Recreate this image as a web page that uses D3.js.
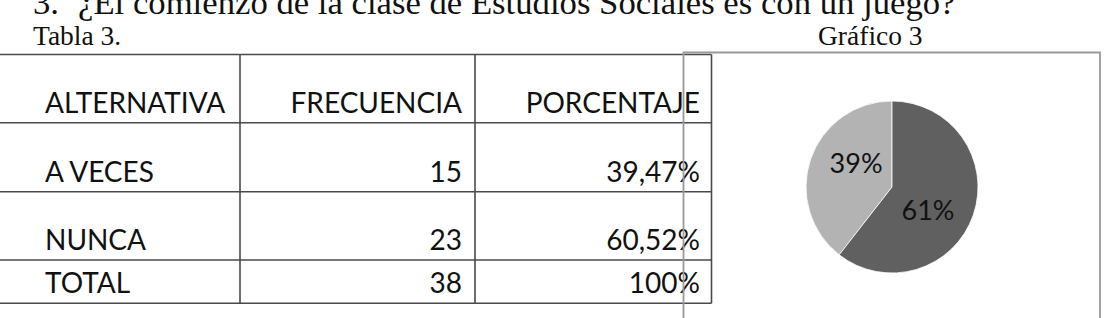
<!DOCTYPE html>
<html>
<head>
<meta charset="utf-8">
<script src="https://cdn.jsdelivr.net/npm/d3@7"></script>
<style>
  html, body { margin: 0; padding: 0; background: #fff; }
  svg { display: block; }
</style>
</head>
<body>
<svg id="chart" width="1107" height="318"></svg>
<script>
// ---- data ----
const headers = ["ALTERNATIVA", "FRECUENCIA", "PORCENTAJE"];
const categories = ["A VECES", "NUNCA"];
const frecuencias = [15, 23];
const porcentajes = ["39,47%", "60,52%"];
const totalLabel = "TOTAL";
const totalFrecuencia = 38;
const totalPorcentaje = "100%";
const pieColors = ["#b3b3b3", "#606060"];

const titleNum = "3.";
const titleText = "¿El comienzo de la clase de Estudios Sociales es con un juego?";
const tableCaption = "Tabla 3.";
const chartCaption = "Gráfico 3";

// ---- drawing ----
const svg = d3.select("#chart");
const serif = "'Liberation Serif', 'Times New Roman', serif";
const sans = "Lato, 'Open Sans', sans-serif";

svg.append("text").attr("x", 33).attr("y", 13.5).attr("font-family", serif)
  .attr("font-size", 34.7).attr("fill", "#111").text(titleNum);
svg.append("text").attr("x", 78).attr("y", 13.5).attr("font-family", serif)
  .attr("font-size", 34.7).attr("fill", "#111").text(titleText);

svg.append("text").attr("x", 33).attr("y", 45).attr("font-family", serif)
  .attr("font-size", 27.5).attr("fill", "#111").text(tableCaption);
svg.append("text").attr("x", 818).attr("y", 45).attr("font-family", serif)
  .attr("font-size", 27.5).attr("fill", "#111").text(chartCaption);

// Table
const colEdges = [0, 240, 475, 711.5];
const rowEdges = [54.5, 122.7, 191.7, 260, 303.3];
const baselines = [112.7, 181.7, 250, 293];
const rows = [headers]
  .concat(categories.map((c, i) => [c, String(frecuencias[i]), porcentajes[i]]))
  .concat([[totalLabel, String(totalFrecuencia), totalPorcentaje]]);

const tbl = svg.append("g");
const lineColor = "#4a4a4a";
rowEdges.forEach(y => {
  tbl.append("line").attr("x1", colEdges[0]).attr("x2", colEdges[3])
    .attr("y1", y).attr("y2", y).attr("stroke", lineColor).attr("stroke-width", 1.6);
});
colEdges.slice(1).forEach(x => {
  tbl.append("line").attr("x1", x).attr("x2", x)
    .attr("y1", rowEdges[0]).attr("y2", rowEdges[4]).attr("stroke", lineColor).attr("stroke-width", 1.6);
});

const textX = [45, 462, 700];
rows.forEach((r, ri) => {
  r.forEach((cell, ci) => {
    tbl.append("text")
      .attr("x", textX[ci])
      .attr("y", baselines[ri])
      .attr("text-anchor", ci === 0 ? "start" : "end")
      .attr("font-family", sans)
      .attr("font-size", 28)
      .attr("fill", "#111")
      .text(cell);
  });
});

// Chart box
svg.append("path")
  .attr("d", "M683.5,330 L683.5,52.5 L1100,52.5 L1100,330")
  .attr("fill", "none").attr("stroke", "#9a9a9a").attr("stroke-width", 1.8);

// Pie
const total = d3.sum(frecuencias);
const startA = 2 * Math.PI * (frecuencias[1] / total);
const pie = d3.pie().sort(null).startAngle(startA).endAngle(startA + 2 * Math.PI);
const arcs = pie(frecuencias);
const radius = 86;
const arc = d3.arc().innerRadius(0).outerRadius(radius);
const pg = svg.append("g").attr("transform", "translate(892,187)");
pg.selectAll("path").data(arcs).join("path")
  .attr("d", arc).attr("fill", (d, i) => pieColors[i])
  .attr("stroke", "#fff").attr("stroke-width", 0.8);
// label placement: slightly rotated from slice midpoint, at ~half radius
function labelPos(d) {
  const a = (d.startAngle + d.endAngle) / 2 + 0.25;
  const r = radius * 0.5;
  return [Math.sin(a) * r, -Math.cos(a) * r];
}
pg.selectAll("text").data(arcs).join("text")
  .attr("transform", d => { const c = labelPos(d); return `translate(${c[0]},${c[1]})`; })
  .attr("text-anchor", "middle").attr("dy", "0.35em")
  .attr("font-family", sans).attr("font-size", 27).attr("fill", "#111")
  .text(d => Math.round(d.value / total * 100) + "%");
</script>
</body>
</html>
